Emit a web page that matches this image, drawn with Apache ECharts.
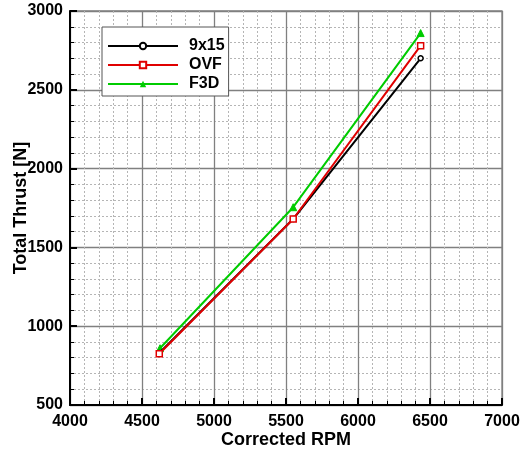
<!DOCTYPE html>
<html>
<head>
<meta charset="utf-8">
<script src="https://cdn.jsdelivr.net/npm/echarts@6/dist/echarts.min.js"></script>
<style>
  html, body { margin: 0; padding: 0; background: #fff; }
  #chart { width: 523px; height: 456px; }
</style>
</head>
<body>
<div id="chart"></div>
<script>
// Total thrust vs corrected RPM for three propeller configurations
const seriesNames = ['9x15', 'OVF', 'F3D'];
const rpm9x15 = [4620, 5550, 6435];
const thrust9x15 = [830, 1680, 2700];
const rpmOVF = [4620, 5550, 6435];
const thrustOVF = [825, 1680, 2780];
const rpmF3D = [4625, 5550, 6435];
const thrustF3D = [860, 1755, 2860];

const xTicks = [4000, 4500, 5000, 5500, 6000, 6500, 7000];
const yTicks = [500, 1000, 1500, 2000, 2500, 3000];

const pairs = (xs, ys) => xs.map((x, i) => [x, ys[i]]);

const fontFam = 'Arial, "Liberation Sans", sans-serif';
const chart = echarts.init(document.getElementById('chart'), null, { renderer: 'canvas' });

const axisCommon = {
  nameMoveOverlap: false,
  axisLine: { show: true, lineStyle: { color: '#000', width: 2 } },
  axisTick: { show: true, inside: true, length: 7, lineStyle: { color: '#000', width: 2 } },
  minorTick: { show: true, splitNumber: 5, length: 4, lineStyle: { color: '#000', width: 1 } },
  splitLine: { show: true, lineStyle: { color: '#808080', width: 1.3 } },
  minorSplitLine: { show: true, lineStyle: { color: '#b5b5b5', width: 1, type: [2, 2] } },
  axisLabel: { color: '#000', fontFamily: fontFam, fontWeight: 'bold', fontSize: 16, formatter: v => String(v) },
  nameTextStyle: { color: '#000', fontFamily: fontFam, fontWeight: 'bold', fontSize: 18 }
};

chart.setOption({
  animation: false,
  backgroundColor: '#fff',
  grid: {
    left: 70, right: 21, top: 11, bottom: 51,
    containLabel: false, outerBoundsMode: 'none',
    show: true, borderColor: '#808080', borderWidth: 1.3
  },
  xAxis: Object.assign({}, axisCommon, {
    type: 'value', min: xTicks[0], max: xTicks[xTicks.length - 1], interval: 500,
    name: 'Corrected RPM', nameLocation: 'middle', nameGap: 26,
    axisLabel: Object.assign({}, axisCommon.axisLabel, { margin: 9 })
  }),
  yAxis: Object.assign({}, axisCommon, {
    type: 'value', min: yTicks[0], max: yTicks[yTicks.length - 1], interval: 500,
    name: 'Total Thrust [N]', nameLocation: 'middle', nameGap: 40,
    axisLabel: Object.assign({}, axisCommon.axisLabel, { margin: 7 })
  }),
  legend: {
    orient: 'vertical', left: 102, top: 27,
    itemWidth: 70, itemHeight: 8, itemGap: 3,
    padding: [11, 4, 4, 5],
    borderColor: '#555', borderWidth: 1, backgroundColor: '#fff',
    textStyle: { color: '#000', fontFamily: fontFam, fontWeight: 'bold', fontSize: 16, lineHeight: 16, padding: [0, 0, 0, 6] },
    data: seriesNames
  },
  series: [
    {
      name: seriesNames[0], type: 'line', data: pairs(rpm9x15, thrust9x15),
      lineStyle: { color: '#000', width: 2 }, itemStyle: { color: '#fff', borderColor: '#000', borderWidth: 1.5 },
      symbol: 'circle', symbolSize: 5, z: 3
    },
    {
      name: seriesNames[1], type: 'line', data: pairs(rpmOVF, thrustOVF),
      lineStyle: { color: '#e00000', width: 2 }, itemStyle: { color: '#fff', borderColor: '#e00000', borderWidth: 1.5 },
      symbol: 'rect', symbolSize: 6, z: 4
    },
    {
      name: seriesNames[2], type: 'line', data: pairs(rpmF3D, thrustF3D),
      lineStyle: { color: '#00cc00', width: 2 }, itemStyle: { color: '#00cc00', borderColor: '#00cc00' },
      symbol: 'triangle', symbolSize: 7, z: 2
    }
  ]
});
</script>
</body>
</html>
